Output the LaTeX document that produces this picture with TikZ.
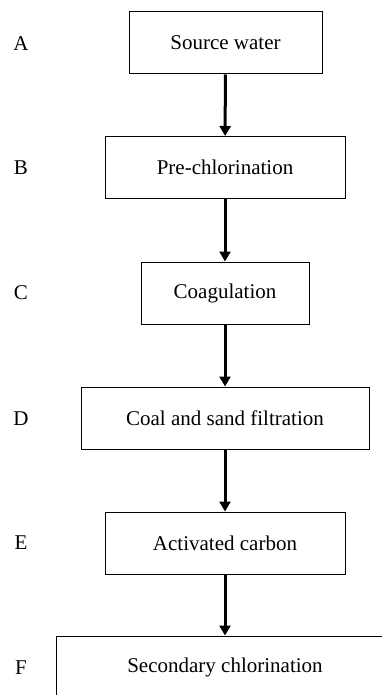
\documentclass[tikz,border=0pt]{standalone}
\usepackage{fontspec}
\setmainfont{Liberation Serif}
\usetikzlibrary{arrows.meta}

\tikzset{
  stage/.style={draw,line width=1pt,inner sep=0pt,minimum height=62pt},
  flow/.style={-{Triangle[width=11pt,length=10pt]},line width=3pt},
}

\begin{document}
\begin{tikzpicture}[x=1pt,y=-1pt,every node/.style={font=\fontsize{21}{25}\selectfont}]
    \useasboundingbox (0,0) rectangle (382,695);
    \clip (0,0) rectangle (382,695);
    % process stages
    \node[stage,minimum width=193pt] (A) at (225.5,43) {Source water};
    \node[stage,minimum width=240pt] (B) at (225,167.5) {Pre-chlorination};
    \node[stage,minimum width=168pt] (C) at (225,293) {Coagulation};
    \node[stage,minimum width=288pt] (D) at (225,418) {Coal and sand filtration};
    \node[stage,minimum width=240pt] (E) at (225,543) {Activated carbon};
    \node[stage,minimum width=337pt] (F) at (225,667) {Secondary chlorination};
    % letters on the left
    \foreach \n/\y in {A/44,B/168,C/293,D/419,E/543,F/668}
      \node (l\n) at (21,\y) {\n};
    % arrows
    \foreach \a/\b in {A/B,B/C,C/D,D/E,E/F}
      \draw[flow] (\a) -- (\b);
  \end{tikzpicture}
\end{document}
